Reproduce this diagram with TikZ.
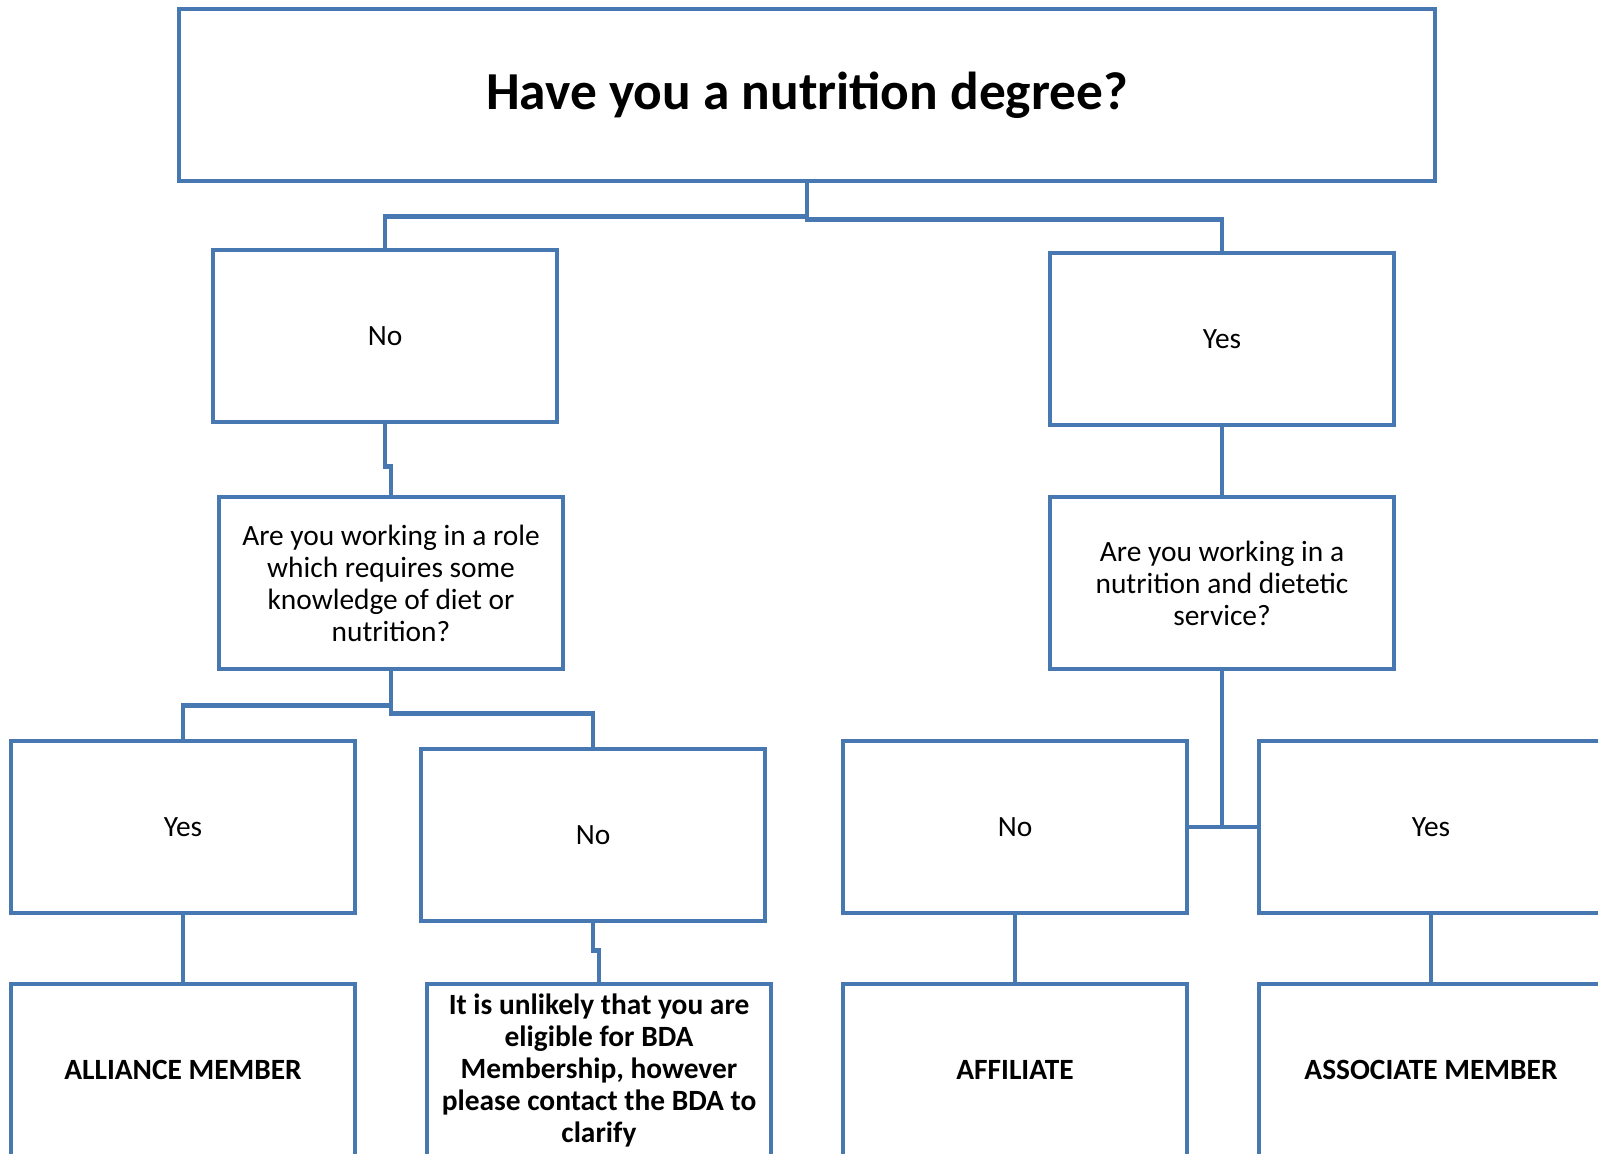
\documentclass[tikz,border=0pt]{standalone}
\usepackage{fontspec}
\setmainfont{Carlito}
\definecolor{bdablue}{RGB}{72,120,178}
\begin{document}
\begin{tikzpicture}[x=0.5pt,y=-0.5pt,
  box/.style={draw=bdablue,line width=2.3pt,minimum width=172pt,minimum height=86pt,
    align=center,inner sep=2pt,font=\fontsize{14.7}{16}\selectfont},
  result/.style={box,font=\fontsize{14.7}{16}\selectfont\bfseries},
  link/.style={draw=bdablue,line width=2.3pt}]
\useasboundingbox (0,0) rectangle (1598,1153);
\clip (0,0) rectangle (1598,1153);
% question row
\node[box,minimum width=628pt,font=\fontsize{26.7}{30}\selectfont\bfseries] (degree) at (807,95) {Have you a nutrition degree?};
\node[box] (no1) at (385,336) {No};
\node[box] (yes1) at (1222,339) {Yes};
\node[box] (role) at (391,583) {Are you working in a role\\which requires some\\knowledge of diet or\\nutrition?};
\node[box] (service) at (1222,583) {Are you working in a\\nutrition and dietetic\\service?};
% answers
\node[box] (yes2) at (183,827) {Yes};
\node[box] (no2) at (593,835) {No};
\node[box] (no3) at (1015,827) {No};
\node[box] (yes3) at (1431,827) {Yes};
% outcomes
\node[result] (alliance) at (183,1070) {ALLIANCE MEMBER};
\node[result] (unlikely) at (599,1070) {It is unlikely that you are\\eligible for BDA\\Membership, however\\please contact the BDA to\\clarify};
\node[result] (affiliate) at (1015,1070) {AFFILIATE};
\node[result] (associate) at (1431,1070) {ASSOCIATE MEMBER};
% links
\draw[link] (degree.south) -- ++(0,36) -| (yes1.north);
\draw[link] (degree.south) ++(0,33) -| (no1.north);
\draw[link] (no1.south) -- ++(0,42) -| (role.north);
\draw[link] (role.south) -- ++(0,42) -| (no2.north);
\draw[link] (role.south) ++(0,34) -| (yes2.north);
\draw[link] (yes1.south) -- (service.north);
\draw[link] (service.south) -- (service.south |- no3.east);
\draw[link] (no3.east) -- (yes3.west);
\draw[link] (yes2.south) -- (alliance.north);
\draw[link] (no2.south) -- ++(0,27) -| (unlikely.north);
\draw[link] (no3.south) -- (affiliate.north);
\draw[link] (yes3.south) -- (associate.north);
\end{tikzpicture}
\end{document}
